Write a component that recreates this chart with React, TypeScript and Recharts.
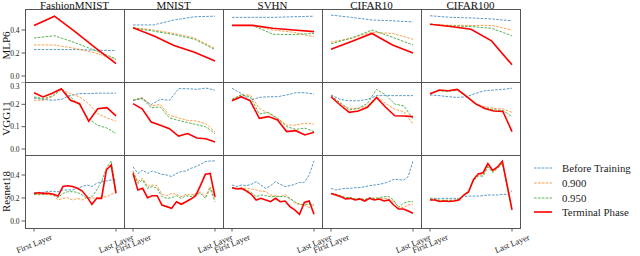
import React from 'react';
import { LineChart, Line, XAxis, YAxis, Legend } from 'recharts';

const FONT = '"Liberation Serif", serif';

const DATASETS = ['FashionMNIST', 'MNIST', 'SVHN', 'CIFAR10', 'CIFAR100'];
const MODELS = ['MLP6', 'VGG11', 'Resnet18'];
const SERIES_NAMES = ['Before Training', '0.900', '0.950', 'Terminal Phase'];
const X_TICK_LABELS = ['First Layer', 'Last Layer'];
const Y_TICKS_MLP6 = [0, 0.2, 0.4];
const Y_TICKS_VGG11 = [0, 0.1, 0.2, 0.3];
const Y_TICKS_RESNET18 = [0, 0.2, 0.4];

// ---- MLP6 ----
const mlp6FashionBefore = [0.23, 0.23, 0.23, 0.225, 0.22];
const mlp6Fashion900 = [0.27, 0.27, 0.24, 0.2, 0.14];
const mlp6Fashion950 = [0.33, 0.35, 0.29, 0.22, 0.15];
const mlp6FashionTerminal = [0.44, 0.52, 0.385, 0.245, 0.107];

const mlp6MnistBefore = [0.444, 0.444, 0.487, 0.515, 0.52];
const mlp6Mnist900 = [0.42, 0.4, 0.37, 0.33, 0.24];
const mlp6Mnist950 = [0.42, 0.39, 0.36, 0.32, 0.23];
const mlp6MnistTerminal = [0.42, 0.35, 0.265, 0.207, 0.13];

const mlp6SvhnBefore = [0.51, 0.51, 0.51, 0.515, 0.52];
const mlp6Svhn900 = [0.44, 0.44, 0.4, 0.38, 0.34];
const mlp6Svhn950 = [0.44, 0.44, 0.363, 0.36, 0.37];
const mlp6SvhnTerminal = [0.44, 0.44, 0.415, 0.4, 0.386];

const mlp6Cifar10Before = [0.53, 0.51, 0.487, 0.48, 0.47];
const mlp6Cifar10900 = [0.294, 0.33, 0.38, 0.37, 0.32];
const mlp6Cifar10950 = [0.28, 0.33, 0.4, 0.337, 0.27];
const mlp6Cifar10Terminal = [0.233, 0.3, 0.37, 0.27, 0.2];

const mlp6Cifar100Before = [0.524, 0.51, 0.505, 0.496, 0.48];
const mlp6Cifar100900 = [0.45, 0.44, 0.44, 0.44, 0.4];
const mlp6Cifar100950 = [0.45, 0.435, 0.43, 0.415, 0.35];
const mlp6Cifar100Terminal = [0.45, 0.43, 0.406, 0.305, 0.098];

// ---- VGG11 ----
const vggFashionBefore = [0.228, 0.222, 0.218, 0.222, 0.24, 0.248, 0.248, 0.25, 0.25, 0.25];
const vggFashion900 = [0.218, 0.218, 0.233, 0.267, 0.248, 0.233, 0.203, 0.158, 0.139, 0.124];
const vggFashion950 = [0.233, 0.225, 0.237, 0.267, 0.233, 0.195, 0.136, 0.106, 0.094, 0.069];
const vggFashionTerminal = [0.252, 0.233, 0.25, 0.27, 0.218, 0.203, 0.124, 0.18, 0.185, 0.148];

const vggMnistBefore = [0.218, 0.225, 0.199, 0.222, 0.218, 0.27, 0.27, 0.267, 0.273, 0.263];
const vggMnist900 = [0.218, 0.23, 0.193, 0.199, 0.151, 0.139, 0.128, 0.125, 0.113, 0.076];
const vggMnist950 = [0.218, 0.228, 0.184, 0.188, 0.139, 0.128, 0.118, 0.109, 0.099, 0.069];
const vggMnistTerminal = [0.203, 0.18, 0.121, 0.106, 0.091, 0.058, 0.069, 0.049, 0.046, 0.031];

const vggSvhnBefore = [0.272, 0.249, 0.219, 0.231, 0.234, 0.234, 0.242, 0.252, 0.252, 0.246];
const vggSvhn900 = [0.222, 0.242, 0.242, 0.182, 0.16, 0.137, 0.107, 0.107, 0.115, 0.112];
const vggSvhn950 = [0.222, 0.242, 0.234, 0.157, 0.164, 0.137, 0.1, 0.088, 0.093, 0.078];
const vggSvhnTerminal = [0.216, 0.234, 0.216, 0.137, 0.145, 0.13, 0.078, 0.082, 0.063, 0.075];

const vggCifar10Before = [0.242, 0.222, 0.216, 0.216, 0.222, 0.239, 0.239, 0.239, 0.239, 0.239];
const vggCifar10900 = [0.24, 0.204, 0.182, 0.182, 0.193, 0.234, 0.204, 0.178, 0.167, 0.112];
const vggCifar10950 = [0.239, 0.207, 0.175, 0.182, 0.204, 0.267, 0.242, 0.201, 0.193, 0.134];
const vggCifar10Terminal = [0.234, 0.197, 0.164, 0.17, 0.187, 0.231, 0.187, 0.149, 0.148, 0.145];

const vggCifar100Before = [0.242, 0.239, 0.234, 0.231, 0.234, 0.249, 0.261, 0.264, 0.267, 0.272];
const vggCifar100900 = [0.25, 0.262, 0.26, 0.265, 0.236, 0.2, 0.19, 0.182, 0.179, 0.164];
const vggCifar100950 = [0.248, 0.26, 0.258, 0.263, 0.234, 0.2, 0.184, 0.176, 0.172, 0.145];
const vggCifar100Terminal = [0.246, 0.264, 0.261, 0.267, 0.236, 0.203, 0.181, 0.17, 0.168, 0.078];

// ---- Resnet18 ----
const resFashionBefore = [0.24, 0.249, 0.249, 0.26, 0.255, 0.255, 0.27, 0.27, 0.27, 0.284, 0.3, 0.313, 0.3, 0.328, 0.342, 0.348, 0.357, 0.357];
const resFashion900 = [0.232, 0.228, 0.232, 0.228, 0.226, 0.183, 0.197, 0.203, 0.183, 0.197, 0.183, 0.203, 0.197, 0.203, 0.21, 0.21, 0.232, 0.249];
const resFashion950 = [0.235, 0.232, 0.232, 0.24, 0.23, 0.203, 0.24, 0.255, 0.255, 0.249, 0.226, 0.197, 0.21, 0.27, 0.342, 0.458, 0.522, 0.26];
const resFashionTerminal = [0.24, 0.246, 0.24, 0.24, 0.232, 0.217, 0.3, 0.307, 0.3, 0.284, 0.26, 0.21, 0.145, 0.197, 0.197, 0.443, 0.487, 0.24];

const resMnistBefore = [0.472, 0.414, 0.443, 0.414, 0.435, 0.42, 0.406, 0.4, 0.386, 0.414, 0.43, 0.435, 0.458, 0.472, 0.493, 0.516, 0.522, 0.522];
const resMnist900 = [0.435, 0.342, 0.371, 0.3, 0.313, 0.307, 0.232, 0.22, 0.24, 0.232, 0.212, 0.232, 0.226, 0.24, 0.25, 0.212, 0.3, 0.197];
const resMnist950 = [0.43, 0.328, 0.357, 0.284, 0.3, 0.284, 0.212, 0.197, 0.203, 0.22, 0.197, 0.22, 0.212, 0.232, 0.24, 0.197, 0.284, 0.168];
const resMnistTerminal = [0.414, 0.27, 0.284, 0.203, 0.22, 0.22, 0.139, 0.125, 0.11, 0.168, 0.145, 0.168, 0.191, 0.22, 0.31, 0.406, 0.414, 0.21];

const resSvhnBefore = [0.313, 0.3, 0.313, 0.307, 0.319, 0.342, 0.313, 0.284, 0.307, 0.342, 0.319, 0.3, 0.307, 0.319, 0.336, 0.336, 0.4, 0.522];
const resSvhn900 = [0.29, 0.284, 0.284, 0.284, 0.278, 0.27, 0.26, 0.255, 0.226, 0.22, 0.212, 0.232, 0.197, 0.154, 0.145, 0.139, 0.116, 0.139];
const resSvhn950 = [0.29, 0.284, 0.284, 0.27, 0.249, 0.212, 0.226, 0.22, 0.212, 0.212, 0.212, 0.212, 0.197, 0.168, 0.145, 0.145, 0.145, 0.139];
const resSvhnTerminal = [0.29, 0.278, 0.284, 0.26, 0.232, 0.183, 0.197, 0.183, 0.168, 0.197, 0.168, 0.174, 0.125, 0.096, 0.058, 0.162, 0.174, 0.058];

const resCifar10Before = [0.284, 0.27, 0.278, 0.284, 0.284, 0.29, 0.29, 0.299, 0.307, 0.313, 0.319, 0.328, 0.342, 0.362, 0.362, 0.354, 0.386, 0.522];
const resCifar10900 = [0.24, 0.232, 0.22, 0.203, 0.203, 0.191, 0.197, 0.188, 0.203, 0.197, 0.197, 0.197, 0.191, 0.168, 0.125, 0.116, 0.139, 0.145];
const resCifar10950 = [0.24, 0.232, 0.22, 0.203, 0.203, 0.191, 0.197, 0.183, 0.203, 0.197, 0.203, 0.212, 0.212, 0.183, 0.116, 0.154, 0.168, 0.168];
const resCifar10Terminal = [0.24, 0.226, 0.212, 0.191, 0.197, 0.183, 0.191, 0.174, 0.197, 0.183, 0.191, 0.174, 0.183, 0.139, 0.104, 0.104, 0.087, 0.067];

const resCifar100Before = [0.197, 0.197, 0.197, 0.197, 0.197, 0.197, 0.197, 0.212, 0.217, 0.217, 0.217, 0.22, 0.226, 0.226, 0.226, 0.232, 0.232, 0.264];
const resCifar100900 = [0.19, 0.19, 0.18, 0.18, 0.18, 0.18, 0.19, 0.226, 0.25, 0.35, 0.4, 0.4, 0.48, 0.43, 0.46, 0.51, 0.31, 0.11];
const resCifar100950 = [0.19, 0.19, 0.18, 0.18, 0.18, 0.18, 0.19, 0.22, 0.25, 0.35, 0.39, 0.39, 0.47, 0.42, 0.46, 0.5, 0.3, 0.09];
const resCifar100Terminal = [0.183, 0.183, 0.17, 0.174, 0.17, 0.174, 0.183, 0.226, 0.255, 0.36, 0.41, 0.42, 0.5, 0.44, 0.47, 0.52, 0.31, 0.096];

// table referencing the named arrays: [model][dataset] -> [before, 0.900, 0.950, terminal]
const GRID: number[][][][] = [
  [
    [mlp6FashionBefore, mlp6Fashion900, mlp6Fashion950, mlp6FashionTerminal],
    [mlp6MnistBefore, mlp6Mnist900, mlp6Mnist950, mlp6MnistTerminal],
    [mlp6SvhnBefore, mlp6Svhn900, mlp6Svhn950, mlp6SvhnTerminal],
    [mlp6Cifar10Before, mlp6Cifar10900, mlp6Cifar10950, mlp6Cifar10Terminal],
    [mlp6Cifar100Before, mlp6Cifar100900, mlp6Cifar100950, mlp6Cifar100Terminal],
  ],
  [
    [vggFashionBefore, vggFashion900, vggFashion950, vggFashionTerminal],
    [vggMnistBefore, vggMnist900, vggMnist950, vggMnistTerminal],
    [vggSvhnBefore, vggSvhn900, vggSvhn950, vggSvhnTerminal],
    [vggCifar10Before, vggCifar10900, vggCifar10950, vggCifar10Terminal],
    [vggCifar100Before, vggCifar100900, vggCifar100950, vggCifar100Terminal],
  ],
  [
    [resFashionBefore, resFashion900, resFashion950, resFashionTerminal],
    [resMnistBefore, resMnist900, resMnist950, resMnistTerminal],
    [resSvhnBefore, resSvhn900, resSvhn950, resSvhnTerminal],
    [resCifar10Before, resCifar10900, resCifar10950, resCifar10Terminal],
    [resCifar100Before, resCifar100900, resCifar100950, resCifar100Terminal],
  ],
];

const SERIES_KEYS = ['before', 'p900', 'p950', 'terminal'];
const SERIES_STYLE = [
  { color: '#1f77b4', dash: '2.6 1.3', width: 1, opacity: 0.75 },
  { color: '#ff7f0e', dash: '2.6 1.3', width: 1, opacity: 0.75 },
  { color: '#2ca02c', dash: '2.6 1.3', width: 1, opacity: 0.8 },
  { color: '#ff0000', dash: undefined, width: 1.6, opacity: 1 },
];

const ROW_DOMAINS: [number, number][] = [
  [-0.0522, 0.5826],
  [-0.0269, 0.3],
  [-0.0609, 0.574],
];
const ROW_TICKS = [Y_TICKS_MLP6, Y_TICKS_VGG11, Y_TICKS_RESNET18];

const COL_X = [25, 124, 223, 322, 421];
const ROW_Y = [9, 82, 155];
const PW = 99;
const PH = 73;
const Y_AXIS_W = 25;
const X_AXIS_H = 28;
const LEGEND_W = 119;
const SIDE = 24; // extra room so rotated tick labels are not clipped

function buildRows(series: number[][]) {
  return series[0].map((_, i) => {
    const row: any = { i };
    SERIES_KEYS.forEach((k, s) => {
      row[k] = series[s][i];
    });
    return row;
  });
}

const XTick = (props: any) => {
  const { x, y, payload } = props;
  const label = payload.value === 0 ? X_TICK_LABELS[0] : X_TICK_LABELS[1];
  const cy = y + 10;
  return (
    <text
      x={x}
      y={cy}
      textAnchor="middle"
      dominantBaseline="central"
      transform={`rotate(-22 ${x} ${cy})`}
      fontSize={8.5}
      fill="#222"
      fontFamily={FONT}
    >
      {label}
    </text>
  );
};

const LegendContent = (props: any) => {
  const payload = props.payload || [];
  return (
    <div style={{ fontFamily: FONT }}>
      {payload.map((entry: any, idx: number) => {
        const dash = entry.payload?.strokeDasharray;
        const w = entry.payload?.strokeWidth ?? 1;
        return (
          <div key={idx} style={{ display: 'flex', alignItems: 'center', height: 14.7 }}>
            <svg width={20} height={6} style={{ display: 'block' }}>
              <line x1={1} y1={3} x2={19} y2={3} stroke={entry.color} strokeWidth={w} strokeDasharray={dash} strokeOpacity={entry.payload?.strokeOpacity ?? 1} />
            </svg>
            <span style={{ marginLeft: 9, fontSize: 10.8, color: '#222', whiteSpace: 'nowrap' }}>{entry.value}</span>
          </div>
        );
      })}
    </div>
  );
};

function Panel({ row, col }: { row: number; col: number }) {
  const series = GRID[row][col];
  const data = buildRows(series);
  const n = data.length;
  const isLeft = col === 0;
  const isBottom = row === 2;
  const isLegend = row === 2 && col === 4;
  const yW = isLeft ? Y_AXIS_W : 0;
  const xH = isBottom ? X_AXIS_H : 0;
  const rW = isLegend ? LEGEND_W : SIDE;
  const lW = SIDE;
  return (
    <div style={{ position: 'absolute', left: COL_X[col] - yW - lW, top: ROW_Y[row] }}>
      <LineChart width={lW + yW + PW + rW} height={PH + xH} data={data} margin={{ top: 0, right: rW, bottom: 0, left: lW }}>
        <XAxis
          type="number"
          dataKey="i"
          domain={[0, n - 1]}
          ticks={[0, n - 1]}
          interval={0}
          hide={!isBottom}
          height={xH}
          padding={{ left: 9, right: 8 }}
          axisLine={false}
          tickSize={3.5}
          tickLine={{ stroke: '#333', strokeWidth: 0.8 }}
          tick={<XTick />}
        />
        <YAxis
          type="number"
          domain={ROW_DOMAINS[row]}
          ticks={ROW_TICKS[row]}
          allowDataOverflow
          hide={!isLeft}
          width={Y_AXIS_W}
          axisLine={false}
          tickSize={3.5}
          tickLine={{ stroke: '#333', strokeWidth: 0.8 }}
          tick={{ fontSize: 7.5, fill: '#222', fontFamily: FONT }}
          tickFormatter={(v: number) => v.toFixed(1)}
        />
        {SERIES_KEYS.map((k, s) => (
          <Line
            key={k}
            type="linear"
            dataKey={k}
            name={SERIES_NAMES[s]}
            stroke={SERIES_STYLE[s].color}
            strokeWidth={SERIES_STYLE[s].width}
            strokeDasharray={SERIES_STYLE[s].dash}
            strokeOpacity={SERIES_STYLE[s].opacity}
            dot={false}
            activeDot={false}
            isAnimationActive={false}
          />
        ))}
        {isLegend && (
          <Legend
            layout="vertical"
            align="center"
            verticalAlign="middle"
            itemSorter={(item: any) => SERIES_NAMES.indexOf(item.value)}
            wrapperStyle={{ left: lW + 112, top: 6, width: 119 }}
            content={<LegendContent />}
          />
        )}
      </LineChart>
    </div>
  );
}

export default function App() {
  return (
    <div style={{ position: 'absolute', left: 0, top: 0, width: 640, height: 256, background: '#fff', overflow: 'hidden' }}>
      {MODELS.map((_, r) => DATASETS.map((_, c) => <Panel key={`${r}-${c}`} row={r} col={c} />))}
      <svg width={640} height={256} style={{ position: 'absolute', left: 0, top: 0, pointerEvents: 'none' }}>
        {MODELS.map((_, r) =>
          DATASETS.map((_, c) => (
            <rect key={`b${r}${c}`} x={COL_X[c] + 0.5} y={ROW_Y[r] + 0.5} width={PW} height={PH} fill="none" stroke="#555" strokeWidth={1} />
          ))
        )}
        {DATASETS.map((d, c) => (
          <text key={d} x={COL_X[c] + PW / 2} y={8.5} textAnchor="middle" fontSize={11} fill="#111" fontFamily={FONT}>
            {d}
          </text>
        ))}
        {MODELS.map((m, r) => {
          const cy = ROW_Y[r] + PH / 2;
          return (
            <text key={m} x={5.5} y={cy} textAnchor="middle" dominantBaseline="central" transform={`rotate(-90 5.5 ${cy})`} fontSize={11} fill="#111" fontFamily={FONT}>
              {m}
            </text>
          );
        })}
      </svg>
    </div>
  );
}
